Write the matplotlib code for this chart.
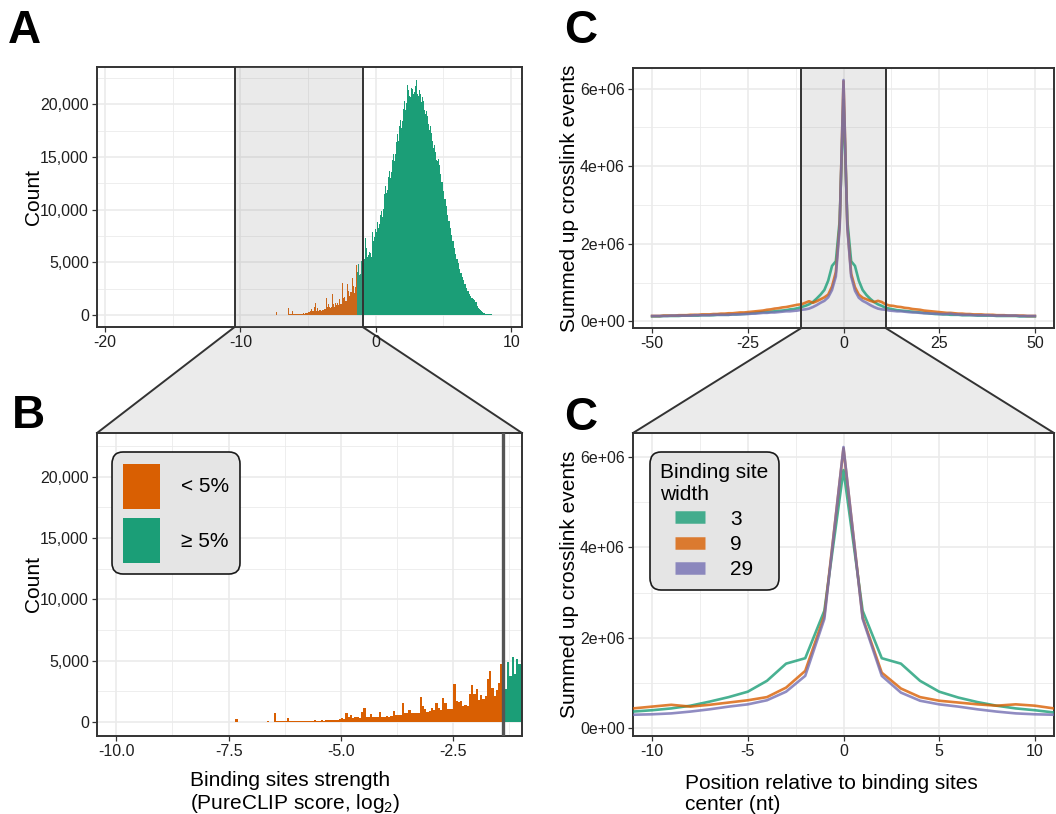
import numpy as np
import matplotlib
matplotlib.use('Agg')
import matplotlib.pyplot as plt
from matplotlib.patches import Patch, Polygon
from matplotlib.lines import Line2D
from matplotlib.ticker import MultipleLocator, FuncFormatter

plt.rcParams['font.family'] = ['Liberation Sans', 'DejaVu Sans']
plt.rcParams['axes.unicode_minus'] = False
plt.rcParams['mathtext.fontset'] = 'custom'
plt.rcParams['mathtext.rm'] = 'Liberation Sans'
plt.rcParams['mathtext.it'] = 'Liberation Sans:italic'

# histogram of binding site strength (PureCLIP score, log2), bins of 0.05 from -10.5
bin_start = -10.5
bin_width = 0.05
threshold = -1.4          # 5% cutoff
zoom_lo, zoom_hi = -10.43, -0.97

counts = [
    0, 0, 3, 0, 5, 2, 0, 4, 6, 0, 3, 5, 2, 0, 6, 3, 4, 0, 5, 3,                      # -10.5
    4, 0, 6, 3, 5, 8, 2, 0, 6, 4, 7, 3, 5, 9, 4, 2, 8, 5, 3, 6,                      # -9.5
    7, 4, 9, 5, 12, 6, 3, 10, 8, 5, 11, 7, 14, 6, 9, 12, 5, 10, 15, 8,               # -8.5
    12, 9, 15, 240, 18, 14, 10, 22, 16, 19, 25, 14, 28, 20, 30, 18, 24, 35, 26, 30,  # -7.5
    700, 40, 45, 38, 52, 44, 330, 58, 48, 62, 85, 70, 95, 80, 105, 90, 110, 95, 120, 100,
    110, 130, 100, 150, 120, 160, 140, 170, 150, 200, 280, 260, 720, 360, 560, 340, 380, 360, 330, 780,
    1110, 360, 380, 640, 400, 360, 420, 780, 430, 410, 440, 420, 460, 920, 560, 540, 600, 1560, 720, 700,
    1000, 720, 740, 700, 760, 2030, 1330, 1060, 780, 920, 1100, 980, 1560, 1110, 970, 1950, 1530, 1060, 1080, 1040,
    3060, 1670, 1650, 1700, 1330, 1360, 1300, 2280, 2970, 2280, 2700, 1800, 2170, 1860, 2140, 3470, 4170, 2780, 2080, 2640,
    3200, 4720, 4040, 2680, 4860, 3770, 5270, 3900, 5140, 4700, 5600, 4900, 6100, 5300, 7300, 5600, 6400, 5500, 6200, 5700,
    6000, 5400, 5900, 5500, 6300, 7900, 7000, 8000, 7400, 8200, 8500, 7900, 8800, 8300, 9200, 8600, 9500, 9000, 9900, 9300,
    10800, 10100, 11500, 10900, 12200, 11600, 12500, 11900, 13100, 12500, 13700, 13000, 14200, 13600, 14700, 14100, 15300, 14600, 15900, 15300,
    16400, 15800, 17200, 16500, 17900, 17200, 18500, 17800, 19100, 18400, 19600, 18900, 20300, 19500, 20900, 20100, 21800, 20600, 21400, 20800,
    21300, 20700, 21600, 20900, 21500, 21000, 21900, 21200, 21700, 21300, 22300, 21000, 21600, 20800, 21400, 20500, 21000, 20200, 20700, 19900,
    20300, 19500, 19900, 19100, 19400, 18600, 18900, 18100, 18400, 17600, 17900, 17100, 17300, 16500, 16700, 15900, 16100, 15300, 15500, 14700,
    15300, 14600, 14800, 14100, 14200, 13400, 13400, 12600, 12600, 11800, 11800, 11000, 11000, 10200, 10300, 9500, 9600, 8900, 8900, 8200,
    8300, 7600, 7600, 7000, 7000, 6400, 6400, 5800, 5900, 5300, 5300, 4800, 4900, 4400, 4400, 4000, 4000, 3600, 3600, 3300,
    3300, 2900, 2900, 2600, 2600, 2300, 2300, 2000, 2000, 1800, 1800, 1600, 1650, 1500, 1550, 1400, 1450, 1250, 1200, 1000,
    850, 700, 650, 520, 480, 380, 340, 260, 230, 180, 160, 130, 110, 90, 80, 70, 60, 55, 50, 45,
    40, 38, 35, 30, 30, 28, 25, 25, 22, 20, 20, 18, 18, 15, 15, 14, 12, 12, 10, 10,
    10, 8,
]

# crosslink events around binding site centre (millions)
positions = list(range(-50, 51))
width3 = [
    0.13, 0.13, 0.13, 0.14, 0.14, 0.14, 0.14, 0.14, 0.15, 0.15,
    0.15, 0.15, 0.15, 0.16, 0.16, 0.16, 0.16, 0.17, 0.17, 0.17,
    0.17, 0.18, 0.18, 0.19, 0.19, 0.20, 0.21, 0.22, 0.23, 0.24,
    0.24, 0.25, 0.26, 0.27, 0.28, 0.29, 0.31, 0.32, 0.34, 0.37,
    0.40, 0.44, 0.50, 0.59, 0.69, 0.81, 1.05, 1.43, 1.55, 2.60,
    5.71,
    2.60, 1.55, 1.43, 1.05, 0.81, 0.68, 0.58, 0.50, 0.44, 0.40,
    0.35, 0.33, 0.31, 0.29, 0.28, 0.27, 0.26, 0.25, 0.24, 0.23,
    0.22, 0.21, 0.20, 0.19, 0.19, 0.18, 0.18, 0.17, 0.17, 0.17,
    0.16, 0.16, 0.16, 0.16, 0.15, 0.15, 0.15, 0.15, 0.15, 0.14,
    0.14, 0.14, 0.14, 0.14, 0.14, 0.13, 0.13, 0.13, 0.13, 0.13,
]
width9 = [
    0.14, 0.14, 0.14, 0.15, 0.15, 0.15, 0.15, 0.16, 0.16, 0.16,
    0.17, 0.17, 0.17, 0.18, 0.18, 0.18, 0.19, 0.19, 0.20, 0.20,
    0.21, 0.21, 0.22, 0.23, 0.23, 0.24, 0.25, 0.26, 0.27, 0.28,
    0.30, 0.31, 0.33, 0.34, 0.36, 0.37, 0.39, 0.41, 0.43, 0.44,
    0.48, 0.52, 0.48, 0.52, 0.57, 0.62, 0.69, 0.90, 1.27, 2.49,
    6.19,
    2.45, 1.23, 0.88, 0.69, 0.61, 0.57, 0.53, 0.50, 0.53, 0.50,
    0.44, 0.41, 0.40, 0.38, 0.37, 0.35, 0.34, 0.32, 0.31, 0.30,
    0.28, 0.27, 0.26, 0.25, 0.24, 0.23, 0.22, 0.22, 0.21, 0.20,
    0.20, 0.19, 0.19, 0.18, 0.18, 0.18, 0.17, 0.17, 0.17, 0.16,
    0.16, 0.16, 0.15, 0.15, 0.15, 0.15, 0.15, 0.14, 0.14, 0.14,
]
width29 = [
    0.14, 0.14, 0.14, 0.14, 0.14, 0.15, 0.15, 0.15, 0.15, 0.15,
    0.15, 0.16, 0.16, 0.16, 0.16, 0.16, 0.17, 0.17, 0.17, 0.17,
    0.17, 0.18, 0.18, 0.18, 0.19, 0.19, 0.20, 0.20, 0.21, 0.22,
    0.22, 0.23, 0.23, 0.24, 0.25, 0.26, 0.26, 0.27, 0.28, 0.30,
    0.31, 0.33, 0.37, 0.42, 0.48, 0.53, 0.62, 0.81, 1.16, 2.42,
    6.22,
    2.42, 1.16, 0.79, 0.61, 0.53, 0.48, 0.42, 0.37, 0.33, 0.31,
    0.30, 0.28, 0.27, 0.26, 0.26, 0.25, 0.24, 0.23, 0.23, 0.22,
    0.21, 0.21, 0.20, 0.20, 0.19, 0.19, 0.19, 0.20, 0.18, 0.18,
    0.17, 0.17, 0.17, 0.16, 0.16, 0.16, 0.16, 0.16, 0.15, 0.15,
    0.15, 0.15, 0.15, 0.15, 0.15, 0.14, 0.14, 0.14, 0.14, 0.14,
]
widths = ['3', '9', '29']

orange = '#D95F02'
green = '#1B9E77'
line_cols = ['#1B9E77', '#D95F02', '#7570B3']
dark = '#333333'
shade = '#EBEBEB'

W, H = 1056, 814
fig = plt.figure(figsize=(W / 100, H / 100), dpi=100)


def px_axes(left, top, right, bottom):
    return fig.add_axes([left / W, 1 - bottom / H, (right - left) / W, (bottom - top) / H])


def style(ax):
    for s in ax.spines.values():
        s.set_color(dark)
        s.set_linewidth(1.4)
    ax.grid(which='major', color=shade, lw=1.2)
    ax.grid(which='minor', color=shade, lw=0.6)
    ax.set_axisbelow(True)
    ax.tick_params(which='major', length=3.8, width=0.9, color=dark,
                   labelsize=11.5, labelcolor='#1F1F1F', pad=2)
    ax.tick_params(which='minor', length=0)


axA = px_axes(97, 67, 522, 327)
axB = px_axes(97, 433, 522, 736)
axC1 = px_axes(633, 68, 1054, 328)
axC2 = px_axes(633, 433, 1054, 736)

# histogram bars
edges = bin_start + bin_width * np.arange(len(counts))
is_low = np.round(edges, 3) < threshold
bar_cols = np.where(is_low, orange, green)

count_fmt = FuncFormatter(lambda v, p: f'{v:,.0f}')
for ax in (axA, axB):
    style(ax)
    ax.bar(edges, counts, width=bin_width, align='edge', color=bar_cols,
           linewidth=0, zorder=2)
    ax.set_ylim(-1150, 23550)
    ax.yaxis.set_major_locator(MultipleLocator(5000))
    ax.yaxis.set_minor_locator(MultipleLocator(2500))
    ax.yaxis.set_major_formatter(count_fmt)
    ax.set_ylabel('Count', fontsize=15)
    ax.yaxis.set_label_coords(-0.128, 0.5)

axA.set_xlim(-20.6, 10.8)
axA.xaxis.set_major_locator(MultipleLocator(10))
axA.xaxis.set_minor_locator(MultipleLocator(5))
axA.axvspan(zoom_lo, zoom_hi, color='#8C8C8C', alpha=0.18, lw=0, zorder=3)
for xv in (zoom_lo, zoom_hi):
    axA.axvline(xv, color=dark, lw=1.4, zorder=4)

axB.set_xlim(zoom_lo, zoom_hi)
axB.xaxis.set_major_locator(MultipleLocator(2.5))
axB.xaxis.set_minor_locator(MultipleLocator(1.25))
axB.xaxis.set_major_formatter(FuncFormatter(lambda v, p: f'{v:.1f}'))
axB.axvline(threshold, color='#555555', lw=2.4, zorder=3)
axB.text((190 - 97) / 425, -0.115,
         'Binding sites strength\n(PureCLIP score, log$_\\mathit{2}$)',
         transform=axB.transAxes, ha='left', va='top', fontsize=15, linespacing=1.1)

legB = axB.legend(handles=[Patch(facecolor=orange, edgecolor='none', label='< 5%'),
                           Patch(facecolor=green, edgecolor='none', label='\u2265 5%')],
                  loc='upper left', bbox_to_anchor=(0.035, 0.937), borderaxespad=0,
                  fontsize=15, handlelength=1.75, handleheight=2.95, handletextpad=1.0,
                  labelspacing=0.45, borderpad=0.55, frameon=True, fancybox=True,
                  facecolor='#E5E5E5', edgecolor='#1A1A1A', framealpha=1)
legB.get_frame().set_linewidth(1.2)
legB.get_frame().set_boxstyle('round,pad=0,rounding_size=0.55')

# crosslink profiles
sci_fmt = FuncFormatter(lambda v, p: f'{v:.0e}')
for ax in (axC1, axC2):
    style(ax)
    for vals, col, lab in zip([width3, width9, width29], line_cols, widths):
        ax.plot(positions, np.array(vals) * 1e6, color=col, alpha=0.8, lw=1.9,
                label=lab, zorder=3)
    ax.set_ylim(-0.17e6, 6.53e6)
    ax.yaxis.set_major_locator(MultipleLocator(2e6))
    ax.yaxis.set_minor_locator(MultipleLocator(1e6))
    ax.yaxis.set_major_formatter(sci_fmt)
    ax.set_ylabel('Summed up crosslink events', fontsize=15)
    ax.yaxis.set_label_coords(-0.128, 0.5)

axC1.set_xlim(-55, 55)
axC1.xaxis.set_major_locator(MultipleLocator(25))
axC1.xaxis.set_minor_locator(MultipleLocator(12.5))
axC1.axvspan(-11, 11, color='#8C8C8C', alpha=0.18, lw=0, zorder=1)
for xv in (-11, 11):
    axC1.axvline(xv, color=dark, lw=1.4, zorder=4)

axC2.set_xlim(-11, 11)
axC2.xaxis.set_major_locator(MultipleLocator(5))
axC2.xaxis.set_minor_locator(MultipleLocator(2.5))
axC2.text((685 - 633) / 421, -0.127,
          'Position relative to binding sites\ncenter (nt)',
          transform=axC2.transAxes, ha='left', va='top', fontsize=15, linespacing=1.1)

leg_handles = [Line2D([], [], color=c, lw=9, alpha=0.8, solid_capstyle='butt') for c in line_cols]
legC = axC2.legend(leg_handles, widths, title='Binding site\nwidth', alignment='center',
                   loc='upper left', bbox_to_anchor=(0.040, 0.937), borderaxespad=0,
                   fontsize=15, title_fontsize=15, handlelength=1.45, handletextpad=1.2,
                   labelspacing=0.3, borderpad=0.5, frameon=True, fancybox=True,
                   facecolor='#E5E5E5', edgecolor='#1A1A1A', framealpha=1)
legC.get_title().set_multialignment('left')
legC.get_frame().set_linewidth(1.2)
legC.get_frame().set_boxstyle('round,pad=0,rounding_size=0.55')


# zoom connectors between panels
def connect(ax_top, ax_bot, lo, hi):
    inv = fig.transFigure.inverted()
    tr = ax_top.get_xaxis_transform()
    p1 = inv.transform(tr.transform((lo, 0)))
    p2 = inv.transform(tr.transform((hi, 0)))
    p3 = inv.transform(ax_bot.transAxes.transform((1, 1)))
    p4 = inv.transform(ax_bot.transAxes.transform((0, 1)))
    fig.add_artist(Polygon([p1, p2, p3, p4], closed=True, transform=fig.transFigure,
                           facecolor=shade, edgecolor='none', zorder=-2))
    for a, b in ((p1, p4), (p2, p3)):
        fig.add_artist(Line2D([a[0], b[0]], [a[1], b[1]], transform=fig.transFigure,
                              color=dark, lw=1.4, zorder=-1))


connect(axA, axB, zoom_lo, zoom_hi)
connect(axC1, axC2, -11, 11)

for lab, x, y in (('A', 8, 43), ('B', 12, 428), ('C', 564, 43), ('C', 564, 430)):
    fig.text(x / W, 1 - y / H, lab, fontsize=33, fontweight='bold', ha='left', va='baseline')

fig.savefig('out.png', dpi=100)
